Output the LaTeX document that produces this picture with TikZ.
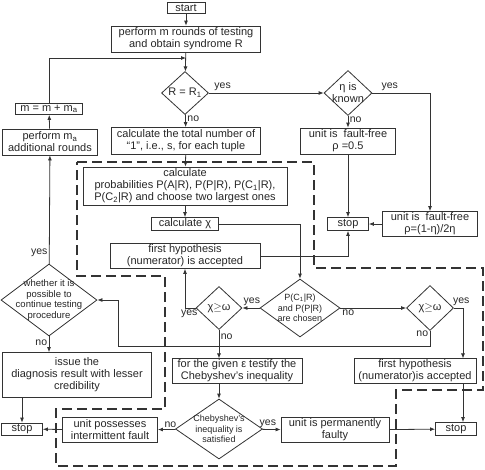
\documentclass[tikz,border=0pt]{standalone}
\usepackage{fontspec}
\setmainfont{Liberation Sans}
\usetikzlibrary{arrows.meta,shapes.geometric}
\definecolor{LineClr}{rgb}{0.2,0.2,0.2}
\definecolor{TextClr}{rgb}{0.15,0.15,0.15}

\begin{document}
\begin{tikzpicture}[x=1pt,y=-1pt,
  every node/.style={text=TextClr,font=\fontsize{11}{12}\selectfont},
  box/.style={draw=LineClr,line width=.8pt,rectangle,align=center,inner sep=1pt},
  dia/.style={draw=LineClr,line width=.8pt,diamond,inner sep=0pt},
  dtxt/.style={align=center,font=\fontsize{9}{10.5}\selectfont},
  lbl/.style={inner sep=1.5pt,font=\fontsize{10.5}{12}\selectfont},
  arr/.style={draw=LineClr,line width=.8pt,-{Latex[length=5pt,width=4pt]}},
  region/.style={draw=LineClr,line width=1.7pt,dash pattern=on 10pt off 5pt}]
\useasboundingbox (0,0) rectangle (485,469);

\node[box,minimum width=38,minimum height=11] (start) at (186,8) {start};
\node[box,minimum width=149,minimum height=26] (prm) at (186,39) {perform m rounds of testing\\and obtain syndrome R};
\node[dia,minimum width=47,minimum height=43] (dR) at (185,93) {};
\node at (dR) {R = R\textsubscript{1}};
\node[dia,minimum width=48,minimum height=45] (deta) at (348,93) {};
\node[align=center] at (deta) {η is\\known};
\node[box,minimum width=67,minimum height=11] (mupd) at (49,109) {m = m + m\textsubscript{a}};
\node[box,minimum width=95,minimum height=26] (pma) at (50,142) {perform m\textsubscript{a}\\additional rounds};
\node[box,minimum width=149,minimum height=27] (count) at (186,141) {calculate the total number of\\“1”, i.e., s, for each tuple};
\node[box,minimum width=95,minimum height=26] (ff1) at (348,141) {unit is\ \ fault-free\\ρ =0.5};
\node[box,minimum width=204,minimum height=38] (prob) at (185,186) {calculate\\probabilities P(A|R), P(P|R), P(C\textsubscript{1}|R),\\P(C\textsubscript{2}|R) and choose two largest ones};
\node[box,minimum width=67,minimum height=13] (calcchi) at (185,224) {calculate χ};
\node[box,minimum width=41,minimum height=13] (stop1) at (348,224) {stop};
\node[box,minimum width=95,minimum height=25] (ff2) at (430,224) {unit is\ \ fault-free\\ρ=(1-η)/2η};
\node[box,minimum width=150,minimum height=25] (hyp1) at (185,256) {first hypothesis\\(numerator) is accepted};
\node[dia,minimum width=96,minimum height=72] (dwhether) at (49,300) {};
\node[dtxt,font=\fontsize{9.5}{10.5}\selectfont] at (dwhether) {whether it is\\possible to\\continue testing\\procedure};
\node[dia,minimum width=46,minimum height=43] (dchi1) at (219,308) {};
\node at (dchi1) {χ$\geq$ω};
\node[dia,minimum width=80,minimum height=58] (dpc) at (300,308) {};
\node[dtxt] at (dpc) {P(C\textsubscript{1}|R)\\and P(P|R)\\are chosen};
\node[dia,minimum width=47,minimum height=45] (dchi2) at (430,308) {};
\node at (dchi2) {χ$\geq$ω};
\node[box,minimum width=149,minimum height=45] (issue) at (77,375) {issue the\\diagnosis result with lesser\\credibility};
\node[box,minimum width=130,minimum height=24] (testify) at (237,371) {for the given ε testify the\\Chebyshev’s inequality};
\node[box,minimum width=122,minimum height=24] (hyp2) at (415,371) {first hypothesis\\(numerator)is accepted};
\node[box,minimum width=41,minimum height=12] (stop2) at (22,429) {stop};
\node[box,minimum width=95,minimum height=25] (inter) at (110,430) {unit possesses\\intermittent fault};
\node[dia,minimum width=87,minimum height=60] (dcheb) at (219,429) {};
\node[dtxt] at (dcheb) {Chebyshev’s\\inequality is\\satisfied};
\node[box,minimum width=108,minimum height=25] (perm) at (335,430) {unit is permanently\\faulty};
\node[box,minimum width=41,minimum height=13] (stop3) at (456,429) {stop};

\coordinate (loop) at (186,58);
\coordinate (back) at (118,346);

\draw[arr] (start) -- (prm);
\draw[arr] (prm) -- (dR);
\draw[arr] (mupd) |- (loop);
\draw[arr] (pma) -- (mupd);
\draw[arr] (dR) -- node[lbl,above,pos=.12]{yes} (deta);
\draw[arr] (dR) -- node[lbl,right,pos=.3]{no} (count);
\draw[arr] (deta.east) -| node[lbl,above,pos=.15]{yes} (ff2);
\draw[arr] (deta) -- node[lbl,right,pos=.3]{no} (ff1);
\draw[arr] (ff1) -- (stop1);
\draw[arr] (ff2) -- (stop1);
\draw[arr] (count) -- (prob);
\draw[arr] (prob) -- (calcchi);
\draw[arr] (calcchi) -| (dpc);
\draw[arr] (hyp1) -| (stop1);
\draw[arr] (dpc) -- node[lbl,above,pos=.45]{yes} (dchi1);
\draw[arr] (dpc) -- node[lbl,below,pos=.12]{no} (dchi2);
\draw[arr] (dchi1.west) -| node[lbl,below,pos=.3]{yes} (hyp1);
\draw[arr] (dchi1) -- node[lbl,right,pos=.25]{no} (dchi1 |- testify.north);
\draw[arr] (dchi2.east) -| node[lbl,above,pos=.4]{yes} ([xshift=48pt]hyp2.north);
\draw[arr] ([xshift=48pt]hyp2.south) -- ([xshift=48pt]hyp2.south |- stop3.north);
\draw[arr] (dchi2.south) |- node[lbl,left,pos=.1]{no} (back) |- (dwhether.east);
\draw[arr] (dwhether) -- node[lbl,left,pos=.1]{yes} (pma);
\draw[arr] (dwhether) -- node[lbl,left,pos=.4]{no} (issue.north -| dwhether);
\draw[arr] (issue.south -| stop2) -- (stop2);
\draw[arr] (inter) -- (stop2);
\draw[arr] (testify.south -| dcheb) -- (dcheb);
\draw[arr] (dcheb) -- node[lbl,above,pos=.3]{no} (inter);
\draw[arr] (dcheb) -- node[lbl,above,pos=.3]{yes} (perm);
\draw[arr] (perm) -- (stop3);

\draw[region] (77,162) -- (314,162) -- (314,268) -- (483,268) -- (483,390) -- (396,390)
  -- (396,466) -- (56,466) -- (56,409) -- (165,409) -- (165,276) -- (77,276) -- cycle;

\end{tikzpicture}
\end{document}
